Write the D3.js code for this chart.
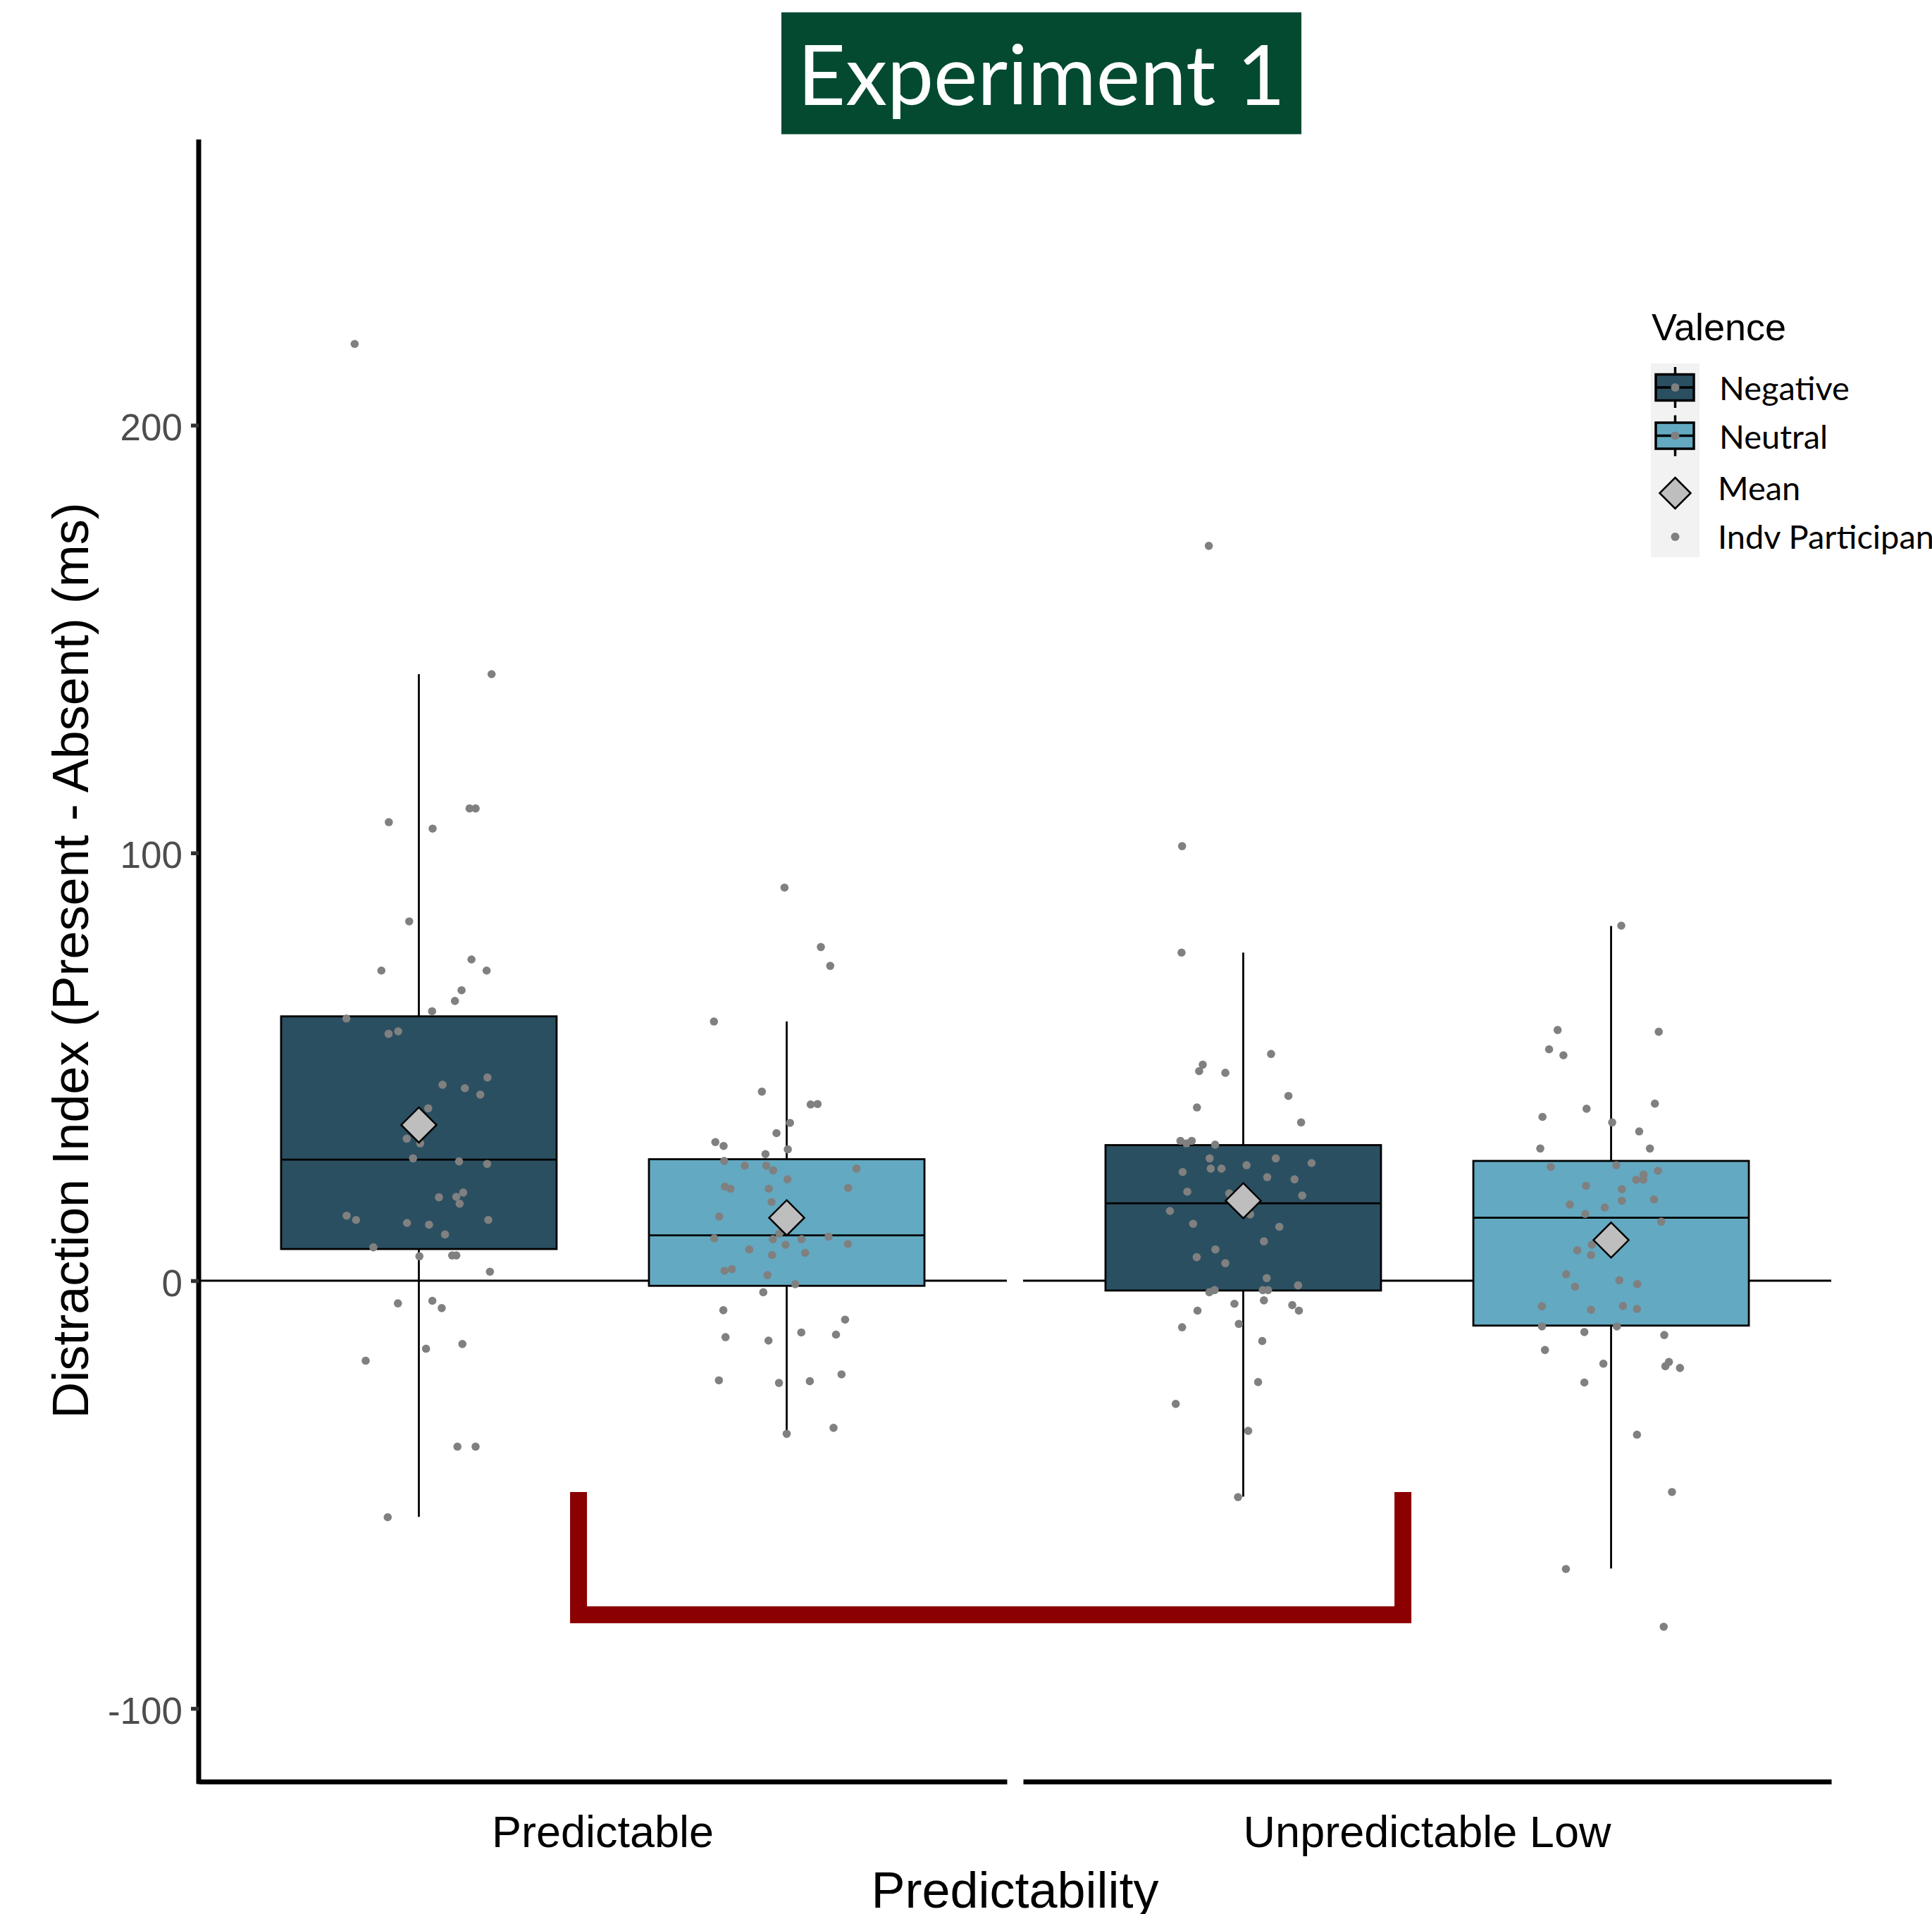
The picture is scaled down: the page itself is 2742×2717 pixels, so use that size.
<!DOCTYPE html>
<html>
<head>
<meta charset="utf-8">
<script src="https://cdn.jsdelivr.net/npm/d3@7"></script>
<style>
  body { margin: 0; background: #fff; }
  text { font-family: "Liberation Sans", Arial, sans-serif; }
</style>
</head>
<body>
<div id="chart"></div>
<script>
// ---- data ----
var facets = ["Predictable", "Unpredictable Low"];
var valences = ["Negative", "Neutral"];
var valenceFill = ["#2A4F61", "#63A9C1"];
var yTicks = [200, 100, 0, -100];
var title = "Experiment 1";
var yTitle = "Distraction Index (Present - Absent) (ms)";
var xTitle = "Predictability";
var legendTitle = "Valence";
var legendExtra = ["Mean", "Indv Participants"];

// box stats, order: Predictable/Negative, Predictable/Neutral, Unpredictable/Negative, Unpredictable/Neutral
var boxLower  = [-55.2, -35.8, -50.5, -67.3];
var boxQ1     = [7.4, -1.2, -2.3, -10.5];
var boxMedian = [28.3, 10.6, 18.1, 14.7];
var boxQ3     = [61.8, 28.4, 31.7, 28.0];
var boxUpper  = [141.8, 60.6, 76.7, 82.9];
var groupMean = [36.4, 14.7, 18.7, 9.5];

// individual participants (value) and their jitter (fraction of box width)
var valsPredNeg = [219.0, 141.8, 107.2, 105.7, 110.4, 110.4, 84.0, 72.5, 75.1, 72.5, 67.9, 65.4, 63.0, 61.3, 57.7, 58.3, 45.8, 45.0, 43.5, 47.5, 40.3, 33.2, 32.1, 28.6, 27.9, 27.3, 19.5, 19.6, 20.6, 18.0, 15.2, 14.2, 13.5, 13.1, 14.2, 10.8, 7.8, 5.7, 5.9, 5.9, 2.1, -5.3, -4.7, -6.4, -14.8, -15.9, -18.7, -38.8, -38.8, -55.3];
var jitPredNeg  = [-0.233, 0.264, -0.109, 0.050, 0.184, 0.206, -0.035, -0.136, 0.191, 0.246, 0.155, 0.131, 0.048, -0.263, -0.110, -0.075, 0.086, 0.167, 0.223, 0.249, 0.034, -0.044, 0.005, -0.021, 0.146, 0.248, 0.073, 0.136, 0.161, 0.148, -0.262, -0.228, -0.043, 0.037, 0.252, 0.095, -0.165, 0.002, 0.121, 0.136, 0.258, -0.076, 0.049, 0.083, 0.158, 0.026, -0.193, 0.140, 0.206, -0.113];

var valsPredNeu = [91.9, 78.0, 73.6, 60.6, 44.2, 41.2, 41.3, 36.9, 34.5, 30.7, 32.4, 31.5, 29.6, 28.0, 26.9, 26.9, 25.8, 26.2, 23.7, 22.0, 21.5, 21.5, 21.7, 18.4, 15.0, 11.0, 9.9, 9.7, 9.7, 10.3, 8.4, 8.6, 7.3, 6.5, 6.0, 2.3, 2.7, 1.3, -0.8, -2.7, -6.9, -9.1, -12.1, -13.2, -12.6, -14.0, -21.9, -23.3, -23.9, -23.5, -34.4, -35.8];
var jitPredNeu  = [-0.008, 0.124, 0.158, -0.264, -0.090, 0.087, 0.112, 0.012, -0.037, 0.004, -0.259, -0.229, -0.077, -0.227, -0.152, -0.074, -0.049, 0.253, 0.003, -0.224, -0.204, -0.065, 0.223, -0.055, -0.245, -0.027, -0.263, -0.050, 0.054, 0.152, -0.004, 0.222, -0.136, 0.067, -0.053, -0.226, -0.199, -0.070, 0.031, -0.085, -0.230, 0.212, 0.053, -0.222, 0.179, -0.066, 0.199, -0.246, -0.028, 0.084, 0.170, 0.000];

var valsUnpNeg = [171.8, 101.6, 76.7, 53.0, 50.5, 49.0, 48.6, 43.2, 40.5, 37.0, 32.7, 32.1, 32.7, 31.8, 28.6, 28.6, 25.4, 26.2, 26.2, 27.0, 27.5, 24.2, 23.7, 20.8, 20.4, 19.9, 16.3, 15.5, 13.3, 12.6, 9.2, 7.3, 5.5, 4.1, 0.6, -1.1, -2.7, -2.2, -2.2, -2.2, -4.6, -5.4, -5.7, -7.0, -7.0, -10.9, -10.1, -14.1, -23.7, -28.8, -35.1, -50.6];
var jitUnpNeg  = [-0.125, -0.222, -0.224, 0.101, -0.147, -0.160, -0.065, 0.164, -0.168, 0.210, -0.228, -0.206, -0.187, -0.102, -0.122, 0.118, -0.220, -0.118, -0.079, 0.012, 0.248, 0.087, 0.186, -0.203, -0.051, 0.214, -0.266, 0.025, -0.182, 0.131, 0.075, -0.101, -0.169, -0.065, 0.085, 0.199, -0.123, -0.104, 0.071, 0.090, 0.075, -0.032, 0.178, 0.202, -0.166, -0.222, -0.016, 0.069, 0.054, -0.245, 0.018, -0.019];

var valsUnpNeu = [83.0, 58.6, 58.2, 54.1, 52.7, 41.4, 40.2, 38.3, 37.0, 34.9, 30.9, 30.9, 26.6, 27.0, 25.7, 23.6, 23.6, 24.8, 22.2, 21.4, 18.7, 19.0, 17.8, 17.1, 15.6, 13.8, 8.4, 7.1, 6.0, 1.5, 0.1, -0.8, -1.4, -6.0, -6.8, -5.9, -6.6, -10.7, -10.7, -12.0, -12.7, -16.2, -19.4, -19.0, -20.0, -20.4, -23.8, -36.0, -49.4, -67.4, -80.9];
var jitUnpNeu  = [0.037, -0.194, 0.173, -0.225, -0.173, 0.159, -0.089, -0.249, 0.004, 0.102, -0.257, 0.141, -0.219, 0.019, 0.170, 0.091, 0.117, 0.118, -0.091, 0.039, 0.039, 0.156, -0.150, -0.023, -0.094, 0.182, -0.070, -0.123, -0.073, -0.163, 0.030, 0.095, -0.131, -0.251, -0.073, 0.043, 0.094, -0.251, 0.021, -0.097, 0.193, -0.240, -0.028, 0.210, 0.197, 0.250, -0.097, 0.094, 0.221, -0.164, 0.191];

// significance bracket between the two facets
var bracketFacets = ["Predictable", "Unpredictable Low"];
var bracketShift = -0.03;     // fraction of panel width
var bracketTop = -49.4;
var bracketBottom = -78.1;

var ptVals = [valsPredNeg, valsPredNeu, valsUnpNeg, valsUnpNeu];
var ptJit = [jitPredNeg, jitPredNeu, jitUnpNeg, jitUnpNeu];

var groups = [];
facets.forEach(function(f, i) {
  valences.forEach(function(v, j) {
    var k = i * 2 + j;
    groups.push({facet: f, valence: v, fill: valenceFill[j],
      lower: boxLower[k], q1: boxQ1[k], med: boxMedian[k], q3: boxQ3[k], upper: boxUpper[k],
      mean: groupMean[k], vals: ptVals[k], jit: ptJit[k]});
  });
});

// ---- canvas ----
var width = 2742, height = 2717;
var panelTop = 198, panelBottom = 2529, left = 282, right = 2599;

var svg = d3.select("#chart").append("svg")
  .attr("width", width).attr("height", height);

var y = d3.scaleLinear().domain([-117.1, 266.8]).range([panelBottom, panelTop]);
var x0 = d3.scaleBand().domain(facets).range([left, right]).paddingInner(0.0197);
var x1 = d3.scaleBand().domain(valences).range([0, x0.bandwidth()])
  .paddingInner(0.251).paddingOuter(0.224);
var bw = x1.bandwidth();

// ---- title banner ----
svg.append("rect")
  .attr("x", 1109).attr("y", 17.5).attr("width", 738).attr("height", 173)
  .attr("fill", "#034A30");
svg.append("text")
  .attr("x", 1478).attr("y", 149)
  .attr("text-anchor", "middle")
  .style("font-family", "Lato, 'Open Sans', sans-serif")
  .style("font-size", "118px")
  .attr("fill", "#fff")
  .text(title);

// ---- panels ----
var panels = svg.selectAll("g.panel").data(facets).enter().append("g")
  .attr("class", "panel")
  .attr("transform", function(d) { return "translate(" + x0(d) + ",0)"; });

// zero reference line
panels.append("line")
  .attr("x1", 0).attr("x2", x0.bandwidth())
  .attr("y1", y(0)).attr("y2", y(0))
  .attr("stroke", "#000").attr("stroke-width", 2.8);

panels.each(function(f) {
  var p = d3.select(this);
  var gg = groups.filter(function(g) { return g.facet == f; });
  gg.forEach(function(g) {
    var cx = x1(g.valence) + bw / 2;
    // whisker
    p.append("line")
      .attr("x1", cx).attr("x2", cx)
      .attr("y1", y(g.upper)).attr("y2", y(g.lower))
      .attr("stroke", "#000").attr("stroke-width", 2.8);
    // box
    p.append("rect")
      .attr("x", x1(g.valence)).attr("width", bw)
      .attr("y", y(g.q3)).attr("height", y(g.q1) - y(g.q3))
      .attr("fill", g.fill).attr("stroke", "#000").attr("stroke-width", 2.8);
    p.append("line")
      .attr("x1", x1(g.valence)).attr("x2", x1(g.valence) + bw)
      .attr("y1", y(g.med)).attr("y2", y(g.med))
      .attr("stroke", "#000").attr("stroke-width", 2.8);
  });
  // participants
  gg.forEach(function(g) {
    var cx = x1(g.valence) + bw / 2;
    p.append("g").selectAll("circle").data(g.vals).enter().append("circle")
      .attr("cx", function(d, i) { return cx + g.jit[i] * bw; })
      .attr("cy", function(d) { return y(d); })
      .attr("r", 5.8)
      .attr("fill", "#808080");
  });
  // means
  gg.forEach(function(g) {
    var cx = x1(g.valence) + bw / 2, cy = y(g.mean), s = 25;
    p.append("path")
      .attr("d", "M" + cx + "," + (cy - s) + "L" + (cx + s) + "," + cy + "L" + cx + "," + (cy + s) + "L" + (cx - s) + "," + cy + "Z")
      .attr("fill", "#BEBEBE").attr("stroke", "#000").attr("stroke-width", 2.5);
  });
  // x axis for this facet
  var xa = d3.scaleBand().domain([f]).range([0, x0.bandwidth()]);
  var ax = p.append("g")
    .attr("transform", "translate(0," + panelBottom + ")")
    .call(d3.axisBottom(xa).tickSize(0).tickSizeOuter(0).tickPadding(48));
  ax.select(".domain").attr("stroke", "#000").attr("stroke-width", 7);
  ax.selectAll("text")
    .style("font-family", "'Liberation Sans', Arial, sans-serif")
    .style("font-size", "63px").attr("fill", "#000");
});

// bracket
var bracketLine = d3.line();
var bx1 = x0(bracketFacets[0]) + x0.bandwidth() * (0.5 + bracketShift);
var bx2 = x0(bracketFacets[1]) + x0.bandwidth() * (0.5 + bracketShift);
svg.append("path")
  .attr("d", bracketLine([[bx1, y(bracketTop)], [bx1, y(bracketBottom)], [bx2, y(bracketBottom)], [bx2, y(bracketTop)]]))
  .attr("fill", "none").attr("stroke", "#8B0000").attr("stroke-width", 24)
  .attr("stroke-linejoin", "miter").attr("stroke-linecap", "butt");

// y axis
var ay = svg.append("g")
  .attr("transform", "translate(" + left + ",0)")
  .call(d3.axisLeft(y).tickValues(yTicks).tickSize(11).tickSizeOuter(0).tickPadding(12)
    .tickFormat(function(d) { return String(d); }));
ay.select(".domain").attr("stroke", "#000").attr("stroke-width", 7)
  .attr("d", "M0," + (panelBottom + 3.5) + "V" + panelTop);
ay.selectAll(".tick line").attr("stroke", "#333").attr("stroke-width", 5.5);
ay.selectAll(".tick text")
  .attr("dy", "0.4em")
  .style("font-family", "'Liberation Sans', Arial, sans-serif")
  .style("font-size", "53px").attr("fill", "#4D4D4D");

// axis titles
svg.append("text")
  .attr("transform", "translate(125," + (panelTop + panelBottom) / 2 + ") rotate(-90)")
  .attr("text-anchor", "middle")
  .style("font-size", "72px").attr("fill", "#000")
  .text(yTitle);
svg.append("text")
  .attr("x", (left + right) / 2).attr("y", 2708)
  .attr("text-anchor", "middle")
  .style("font-size", "72px").attr("fill", "#000")
  .text(xTitle);

// ---- legend ----
var lg = svg.append("g").attr("transform", "translate(2343,0)");
var key = 69;
lg.append("text").attr("x", 1).attr("y", 483)
  .style("font-size", "54px").attr("fill", "#000").text(legendTitle);
lg.append("rect").attr("x", 0).attr("y", 516).attr("width", key).attr("height", 275)
  .attr("fill", "#F2F2F2");

var lfont = "Lato, 'Open Sans', sans-serif";
valences.forEach(function(v, j) {
  var cy = 550 + j * 68.5, kx = key / 2;
  lg.append("line").attr("x1", kx).attr("x2", kx).attr("y1", cy - 29).attr("y2", cy + 29)
    .attr("stroke", "#000").attr("stroke-width", 3.5);
  lg.append("rect").attr("x", 7).attr("y", cy - 18.5).attr("width", 54).attr("height", 37)
    .attr("fill", valenceFill[j]).attr("stroke", "#000").attr("stroke-width", 3.5);
  lg.append("line").attr("x1", 7).attr("x2", 61).attr("y1", cy).attr("y2", cy)
    .attr("stroke", "#000").attr("stroke-width", 3.5);
  lg.append("circle").attr("cx", kx).attr("cy", cy).attr("r", 6).attr("fill", "#808080");
  lg.append("text").attr("x", 97).attr("y", cy + 18)
    .style("font-family", lfont).style("font-size", "47px").attr("fill", "#000").text(v);
});
// mean key
var mcx = key / 2, mcy = 700, ms = 22;
lg.append("path")
  .attr("d", "M" + mcx + "," + (mcy - ms) + "L" + (mcx + ms) + "," + mcy + "L" + mcx + "," + (mcy + ms) + "L" + (mcx - ms) + "," + mcy + "Z")
  .attr("fill", "#BEBEBE").attr("stroke", "#000").attr("stroke-width", 2.5);
lg.append("text").attr("x", 95).attr("y", 710)
  .style("font-family", lfont).style("font-size", "47px").attr("fill", "#000").text(legendExtra[0]);
// participant key
lg.append("circle").attr("cx", key / 2).attr("cy", 762).attr("r", 6).attr("fill", "#808080");
lg.append("text").attr("x", 95).attr("y", 779)
  .style("font-family", lfont).style("font-size", "47px").attr("fill", "#000").text(legendExtra[1]);
</script>
</body>
</html>
